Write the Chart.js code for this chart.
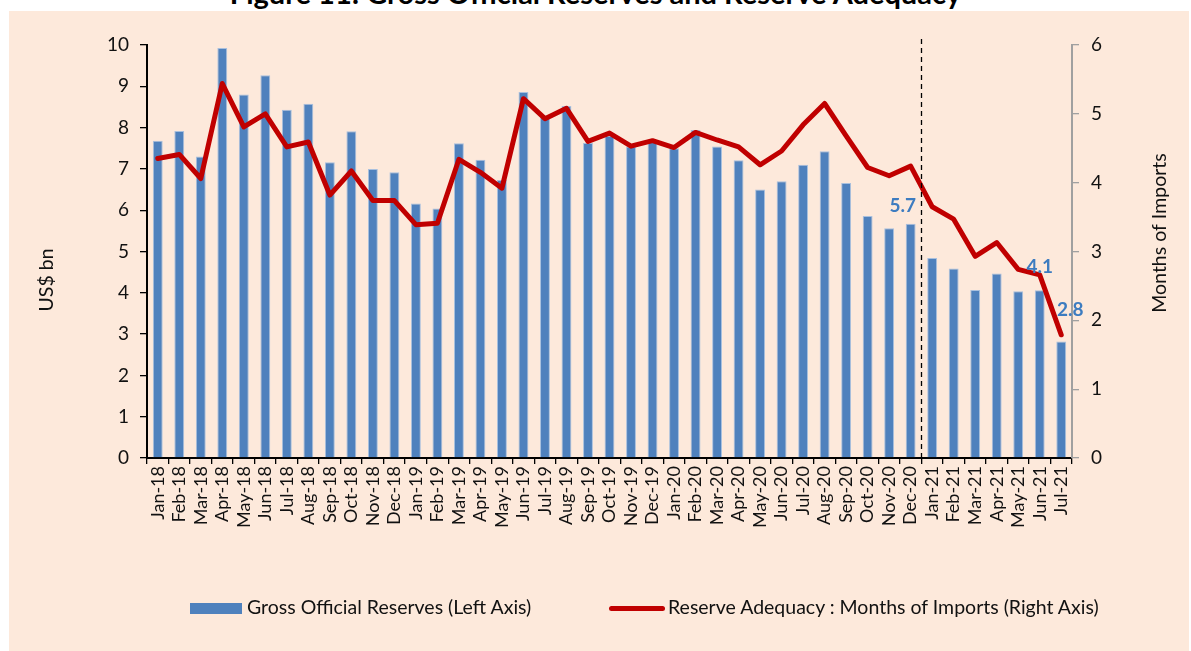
<!DOCTYPE html>
<html>
<head>
<meta charset="utf-8">
<script src="https://cdn.jsdelivr.net/npm/chart.js@4/dist/chart.umd.min.js"></script>
<style>
  body { margin: 0; background: #fff; width: 1191px; height: 651px; overflow: hidden; position: relative; font-family: Lato, "Open Sans", sans-serif; }
  #title { position: absolute; left: 0; width: 1191px; top: -22px; line-height: 29px; font-size: 29px; font-weight: bold; text-align: center; color: #000; white-space: nowrap; }
  #panel { position: absolute; left: 9px; top: 11px; width: 1180px; height: 640px; background: #fde9db; }
  #chart { position: absolute; left: 0; top: 0; }
  .leg { position: absolute; top: 585px; font-size: 19.5px; color: #111; line-height: 22px; white-space: nowrap; }
  .box { display: inline-block; vertical-align: middle; margin-right: 5px; position: relative; top: -1px; }
</style>
</head>
<body>
<div id="title">Figure 11: Gross Official Reserves and Reserve Adequacy</div>
<div id="panel">
  <canvas id="chart" width="1180" height="640"></canvas>
  <div class="leg" style="left:181px"><span class="box" style="width:52px;height:11px;background:#4f81bd"></span>Gross Official Reserves (Left Axis)</div>
  <div class="leg" style="left:600px"><span class="box" style="width:56px;height:5px;background:#c00000;border-radius:3px;margin-right:3px"></span>Reserve Adequacy : Months of Imports (Right Axis)</div>
</div>
<script>
const months = ['Jan-18','Feb-18','Mar-18','Apr-18','May-18','Jun-18','Jul-18','Aug-18','Sep-18','Oct-18','Nov-18','Dec-18',
  'Jan-19','Feb-19','Mar-19','Apr-19','May-19','Jun-19','Jul-19','Aug-19','Sep-19','Oct-19','Nov-19','Dec-19',
  'Jan-20','Feb-20','Mar-20','Apr-20','May-20','Jun-20','Jul-20','Aug-20','Sep-20','Oct-20','Nov-20','Dec-20',
  'Jan-21','Feb-21','Mar-21','Apr-21','May-21','Jun-21','Jul-21'];

// US$ bn (left axis)
const reserves = [7.68, 7.92, 7.30, 9.93, 8.80, 9.27, 8.43, 8.58, 7.16, 7.91, 7.00, 6.92,
  6.16, 6.04, 7.62, 7.22, 6.73, 8.86, 8.30, 8.52, 7.63, 7.80, 7.54, 7.66,
  7.50, 7.94, 7.54, 7.21, 6.50, 6.70, 7.10, 7.43, 6.66, 5.86, 5.56, 5.67,
  4.84, 4.59, 4.07, 4.47, 4.04, 4.06, 2.82];

// months of imports (right axis)
const importCover = [4.35, 4.41, 4.06, 5.44, 4.81, 5.00, 4.52, 4.59, 3.82, 4.17, 3.74, 3.74,
  3.39, 3.41, 4.34, 4.15, 3.92, 5.22, 4.93, 5.08, 4.60, 4.72, 4.53, 4.61,
  4.51, 4.73, 4.62, 4.52, 4.26, 4.46, 4.84, 5.15, 4.68, 4.22, 4.10, 4.24,
  3.65, 3.47, 2.93, 3.13, 2.74, 2.66, 1.79];

const labelledBars = ['Dec-20', 'Jun-21', 'Jul-21'];
const splitAfter = 'Dec-20';

const font = 'Lato';

const extras = {
  id: 'extras',
  afterDatasetsDraw(chart) {
    const ctx = chart.ctx;
    const x = chart.scales.x, y = chart.scales.y;
    // dashed divider
    const i = months.indexOf(splitAfter);
    const dx = (x.getPixelForValue(i) + x.getPixelForValue(i + 1)) / 2;
    ctx.save();
    ctx.strokeStyle = '#000';
    ctx.lineWidth = 1.3;
    ctx.setLineDash([5, 4]);
    ctx.beginPath();
    ctx.moveTo(Math.round(dx) + 0.5, chart.chartArea.top - 6);
    ctx.lineTo(Math.round(dx) + 0.5, chart.chartArea.bottom);
    ctx.stroke();
    ctx.restore();

    // bar value labels
    const shifts = [[-8, -18], [0, -23], [9, -32]];
    ctx.save();
    ctx.font = 'bold 19px ' + font;
    ctx.fillStyle = '#3d7cc0';
    ctx.textAlign = 'center';
    ctx.textBaseline = 'middle';
    labelledBars.forEach((m, k) => {
      const j = months.indexOf(m);
      ctx.fillText(reserves[j].toFixed(1), x.getPixelForValue(j) + shifts[k][0], y.getPixelForValue(reserves[j]) + shifts[k][1]);
    });
    ctx.restore();
  },
  afterDraw(chart) {
    const ctx = chart.ctx;
    ctx.save();
    ctx.font = '19.5px ' + font;
    ctx.fillStyle = '#111';
    ctx.textAlign = 'center';
    ctx.textBaseline = 'middle';
    ctx.translate(38, 269);
    ctx.rotate(-Math.PI / 2);
    ctx.fillText('US$ bn', 0, 0);
    ctx.restore();
    ctx.save();
    ctx.font = '19.5px ' + font;
    ctx.fillStyle = '#111';
    ctx.textAlign = 'center';
    ctx.textBaseline = 'middle';
    ctx.translate(1151, 222);
    ctx.rotate(-Math.PI / 2);
    ctx.fillText('Months of Imports', 0, 0);
    ctx.restore();
  }
};

new Chart(document.getElementById('chart'), {
  type: 'bar',
  data: {
    labels: months,
    datasets: [{
      type: 'line',
      label: 'Reserve Adequacy : Months of Imports (Right Axis)',
      data: importCover,
      yAxisID: 'y1',
      borderColor: '#c00000',
      borderWidth: 5,
      borderJoinStyle: 'round',
      borderCapStyle: 'round',
      pointRadius: 0,
      tension: 0,
      order: 0
    }, {
      label: 'Gross Official Reserves (Left Axis)',
      data: reserves,
      yAxisID: 'y',
      backgroundColor: '#4f81bd',
      borderColor: '#a9c0de',
      borderWidth: 1,
      categoryPercentage: 1,
      barPercentage: 0.46,
      order: 1
    }]
  },
  options: {
    responsive: false,
    animation: false,
    layout: { padding: { top: 34, left: 0, right: 0, bottom: 0 } },
    plugins: { legend: { display: false }, tooltip: { enabled: false } },
    scales: {
      x: {
        afterFit: s => { s.height = 193; },
        grid: { drawOnChartArea: false, drawTicks: true, tickLength: 6, color: '#000', lineWidth: 1.3, offset: true },
        border: { display: true, color: '#000', width: 2 },
        ticks: { autoSkip: false, minRotation: 90, maxRotation: 90, padding: 2, color: '#111', font: { family: font, size: 18 } }
      },
      y: {
        position: 'left',
        min: 0, max: 10,
        afterFit: s => { s.width = 138; },
        grid: { drawOnChartArea: false, drawTicks: true, tickLength: 7, color: '#000', lineWidth: 1.3 },
        border: { display: true, color: '#000', width: 2 },
        ticks: { stepSize: 1, padding: 11, color: '#111', font: { family: font, size: 19 } }
      },
      y1: {
        position: 'right',
        min: 0, max: 6,
        afterFit: s => { s.width = 117; },
        grid: { drawOnChartArea: false, drawTicks: true, tickLength: 7, color: '#a0a0a0', lineWidth: 1.3 },
        border: { display: true, color: '#a0a0a0', width: 2 },
        ticks: { stepSize: 1, padding: 12, color: '#111', font: { family: font, size: 19 } }
      }
    }
  },
  plugins: [extras]
});
</script>
</body>
</html>
